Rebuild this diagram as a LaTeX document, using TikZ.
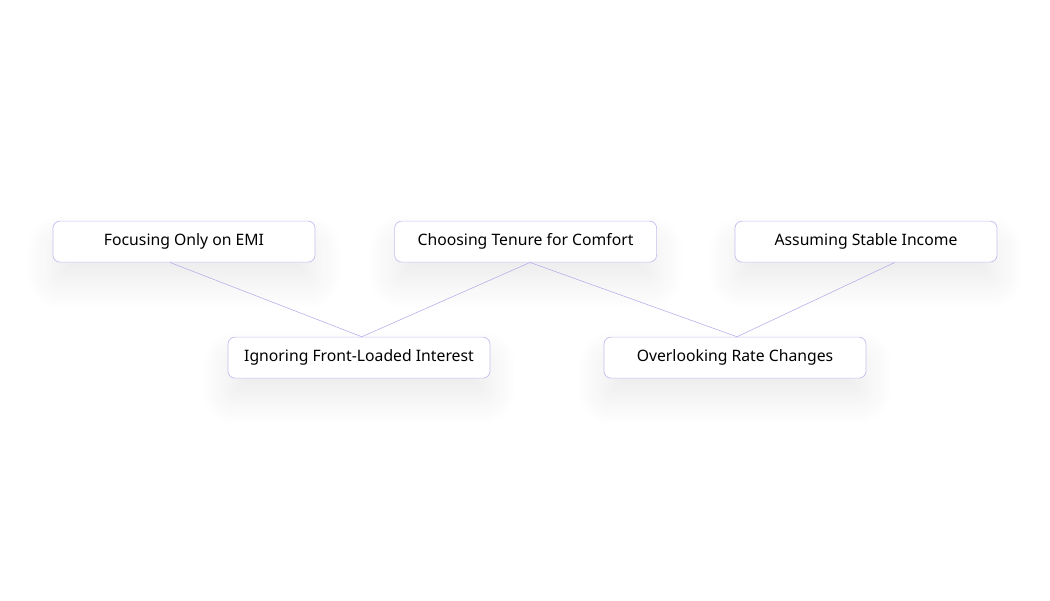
\documentclass[tikz,border=0pt]{standalone}
\usepackage{fontspec}
\setmainfont{Noto Sans}
\usetikzlibrary{shadows.blur}
\definecolor{edgeline}{RGB}{196,190,240}
\definecolor{linkline}{RGB}{180,172,236}
\tikzset{
  item/.style={draw=edgeline, line width=0.5pt, fill=white, rounded corners=5pt,
    minimum width=6.55cm, minimum height=1.025cm, font=\fontsize{11.2}{13}\selectfont,
    blur shadow={shadow xshift=0pt, shadow yshift=-0.5cm, shadow blur radius=0.7cm,
      shadow opacity=8, shadow blur steps=12}},
  link/.style={draw=linkline, line width=0.4pt}
}
\begin{document}
\begin{tikzpicture}
\useasboundingbox (0,0) rectangle (26.25,-15);

\node[item] (emi) at (4.6,-6.04) {Focusing Only on EMI};
\node[item] (tenure) at (13.14,-6.04) {Choosing Tenure for Comfort};
\node[item] (income) at (21.65,-6.04) {Assuming Stable Income};
\node[item] (interest) at (8.975,-8.94) {Ignoring Front-Loaded Interest};
\node[item] (rate) at (18.375,-8.94) {Overlooking Rate Changes};

\draw[link] ([xshift=-0.35cm]emi.south) -- ([xshift=0.07cm]interest.north);
\draw[link] ([xshift=0.11cm]tenure.south) -- ([xshift=0.07cm]interest.north);
\draw[link] ([xshift=0.11cm]tenure.south) -- ([xshift=0.05cm]rate.north);
\draw[link] ([xshift=0.72cm]income.south) -- ([xshift=0.05cm]rate.north);
\end{tikzpicture}
\end{document}
